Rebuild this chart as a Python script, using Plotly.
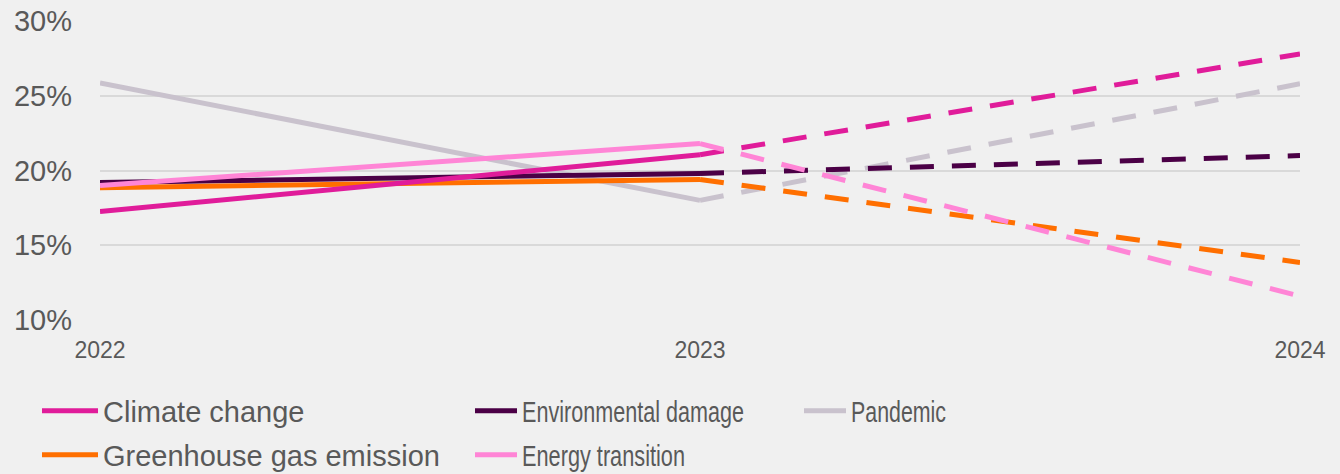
import plotly.graph_objects as go

years = [2022, 2023, 2024]
series_names = ["Climate change", "Environmental damage", "Pandemic",
                "Greenhouse gas emission", "Energy transition"]
climate_change = [17.25, 21.05, 27.8]
environmental_damage = [19.2, 19.8, 21.0]
pandemic = [25.85, 18.0, 25.8]
greenhouse_gas = [18.85, 19.4, 13.85]
energy_transition = [19.0, 21.8, 11.6]
series_values = [climate_change, environmental_damage, pandemic,
                 greenhouse_gas, energy_transition]
colors = ["#e01c9a", "#4b0046", "#c9c2cd", "#ff6f00", "#ff85d6"]
y_ticks = [10, 15, 20, 25, 30]
y_tick_labels = ["10%", "15%", "20%", "25%", "30%"]
x_tick_labels = ["2022", "2023", "2024"]

TEXT = "#595959"
FONT = "Liberation Sans, Arial, sans-serif"

# legend placement: (legend id, left x px, center y px, symbol width, condensed text width)
legend_slots = [
    ("legend", 37, 411, 56, None),
    ("legend2", 470, 411, 42, 222),
    ("legend3", 799, 411, 42, 95),
    ("legend4", 37, 455, 56, None),
    ("legend5", 470, 455, 42, 163),
]

fig = go.Figure()
draw_order = [2, 1, 3, 0, 4]
for i in draw_order:
    name = series_names[i]
    vals = series_values[i]
    lg = legend_slots[i][0]
    fig.add_trace(go.Scatter(
        x=years[:2], y=vals[:2], mode="lines", name=name,
        line=dict(color=colors[i], width=5),
        legend=lg, showlegend=True, hoverinfo="skip"))
    fig.add_trace(go.Scatter(
        x=years[1:], y=vals[1:], mode="lines", name=name,
        line=dict(color=colors[i], width=5, dash="24px,18px"),
        legend=lg, showlegend=False, hoverinfo="skip"))

W, H = 1340, 474
layout_legends = {}
for lg, xpx, ypx, sw, _ in legend_slots:
    layout_legends[lg] = dict(
        x=xpx / W, y=1 - ypx / H, xref="container", yref="container",
        xanchor="left", yanchor="middle", orientation="v",
        bgcolor="rgba(0,0,0,0)", borderwidth=0, itemwidth=sw,
        font=dict(family=FONT, size=29, color=TEXT))

fig.update_layout(
    width=W, height=H,
    margin=dict(l=100, r=40, t=21, b=154, autoexpand=False),
    paper_bgcolor="#f0f0f0", plot_bgcolor="#f0f0f0",
    font=dict(family=FONT, color=TEXT),
    **layout_legends,
)
fig.update_xaxes(
    range=[2022, 2024], tickvals=years, ticktext=x_tick_labels,
    showgrid=False, zeroline=False, showline=False,
    tickfont=dict(size=23, color=TEXT), ticklabelstandoff=14)
fig.update_yaxes(
    range=[10, 30], tickvals=y_ticks, ticktext=y_tick_labels,
    showgrid=True, gridcolor="#d9d9d9", gridwidth=2,
    zeroline=False, showline=False,
    tickfont=dict(size=29, color=TEXT), ticklabelstandoff=27)

# condensed legend labels (as in the reference) via SVG textLength
condensed = {series_names[i]: legend_slots[i][4] for i in range(5) if legend_slots[i][4]}
js_map = "{" + ",".join('"%s":%d' % (k, v) for k, v in condensed.items()) + "}"
post = (
    "document.body.style.margin='0';"
    "var m=" + js_map + ";"
    "function squeeze(){document.querySelectorAll('svg text').forEach(function(t){"
    "var w=m[(t.textContent||'').trim()];if(w){t.setAttribute('textLength',String(w));"
    "t.setAttribute('lengthAdjust','spacingAndGlyphs');}});}"
    "squeeze();setTimeout(squeeze,50);setTimeout(squeeze,300);setTimeout(squeeze,1000);"
    "var gd=document.querySelector('.plotly-graph-div');"
    "if(gd&&gd.on){gd.on('plotly_afterplot',squeeze);}"
)

fig.write_html("out.html", post_script=post, config={"displayModeBar": False})
